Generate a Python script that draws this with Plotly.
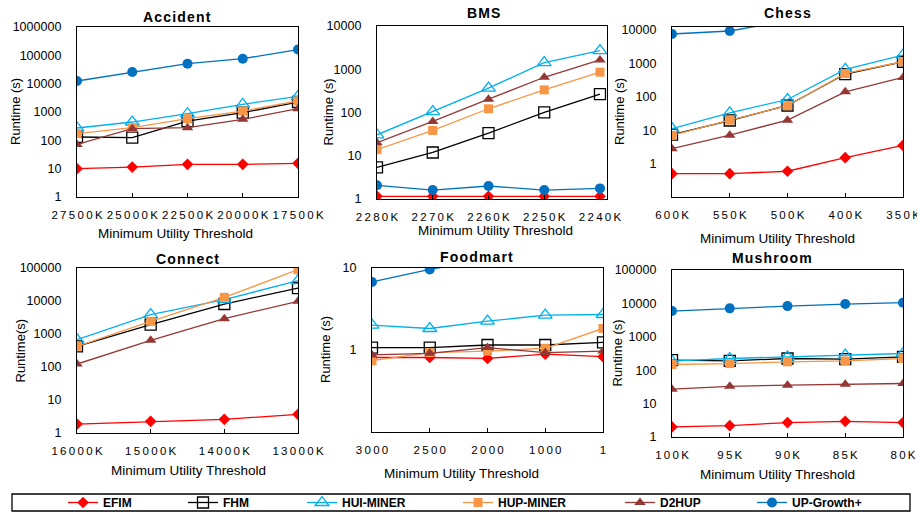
import plotly.graph_objects as go

# ---------------- data ----------------
series_names = ["EFIM", "FHM", "HUI-MINER", "HUP-MINER", "D2HUP", "UP-Growth+"]

accident_x = ["27500K", "25000K", "22500K", "20000K", "17500K"]
accident_efim = [10, 11.4, 14.2, 14.2, 15.4]
accident_fhm = [131, 124, 480, 950, 2250]
accident_hui = [272, 443, 870, 1870, 3550]
accident_hup = [172, 280, 580, 1080, 2450]
accident_d2hup = [72, 257, 280, 550, 1310]
accident_upg = [12400, 25700, 50800, 76000, 160000]

bms_x = ["2280K", "2270K", "2260K", "2250K", "2240K"]
bms_efim = [1.15, 1.15, 1.15, 1.15, 1.15]
bms_fhm = [5.4, 11.9, 33.3, 101, 265]
bms_hui = [30.5, 105, 365, 1420, 2700]
bms_hup = [13.8, 38.5, 122, 333, 855]
bms_d2hup = [20, 62, 203, 653, 1640]
bms_upg = [2.07, 1.61, 2.0, 1.61, 1.76]

chess_x = ["600K", "550K", "500K", "400K", "350K"]
chess_efim = [0.5, 0.5, 0.59, 1.5, 3.5]
chess_fhm = [7.4, 19.5, 55, 480, 1120]
chess_hui = [11.2, 33, 83, 660, 1780]
chess_hup = [7.0, 20, 54, 500, 1120]
chess_d2hup = [2.8, 7.1, 20, 141, 380]
chess_upg = [7600, 9330, 19000, 60000, 120000]

connect_x = ["16000K", "15000K", "14000K", "13000K"]
connect_efim = [1.87, 2.26, 2.6, 3.68]
connect_fhm = [423, 1920, 8100, 24700]
connect_hui = [675, 3850, 11000, 41300]
connect_hup = [423, 2420, 12900, 89000]
connect_d2hup = [123, 644, 2920, 9760]
connect_upg = None

foodmart_x = ["3000", "2500", "2000", "1000", "1"]
foodmart_efim = [0.81, 0.81, 0.79, 0.89, 0.83]
foodmart_fhm = [1.07, 1.07, 1.15, 1.15, 1.24]
foodmart_hui = [2.01, 1.83, 2.25, 2.66, 2.71]
foodmart_hup = [0.74, 0.93, 0.97, 1.05, 1.83]
foodmart_d2hup = [0.87, 0.91, 1.07, 0.93, 0.97]
foodmart_upg = [6.76, 9.6, 12.8, 16, 20]

mushroom_x = ["100K", "95K", "90K", "85K", "80K"]
mushroom_efim = [2.0, 2.19, 2.7, 2.95, 2.7]
mushroom_fhm = [200, 190, 224, 214, 251]
mushroom_hui = [186, 224, 251, 282, 316]
mushroom_hup = [148, 158, 178, 190, 224]
mushroom_d2hup = [27, 33, 35.5, 38, 40]
mushroom_upg = [5900, 7100, 8300, 9550, 10500]

titles = ["Accident", "BMS", "Chess", "Connect", "Foodmart", "Mushroom"]
ylabels = ["Runtime (s)", "Runtime (s)", "Runtime (s)", "Runtime(s)", "Runtime (s)", "Runtime (s)"]
xlabel = "Minimum Utility Threshold"

# ---------------- styles ----------------
W, H = 917, 512
FONT = "Liberation Sans"
styles = [
    dict(color="#FF0000", symbol="diamond", size=9, fill=True),
    dict(color="#000000", symbol="square-open", size=11, fill=False),
    dict(color="#00B0F0", symbol="triangle-up-open", size=12, fill=False),
    dict(color="#F79646", symbol="square", size=9, fill=True),
    dict(color="#953735", symbol="triangle-up", size=10, fill=True),
    dict(color="#0070C0", symbol="circle", size=10, fill=True),
]

datasets = [
    (accident_x, [accident_efim, accident_fhm, accident_hui, accident_hup, accident_d2hup, accident_upg]),
    (bms_x, [bms_efim, bms_fhm, bms_hui, bms_hup, bms_d2hup, bms_upg]),
    (chess_x, [chess_efim, chess_fhm, chess_hui, chess_hup, chess_d2hup, chess_upg]),
    (connect_x, [connect_efim, connect_fhm, connect_hui, connect_hup, connect_d2hup, connect_upg]),
    (foodmart_x, [foodmart_efim, foodmart_fhm, foodmart_hui, foodmart_hup, foodmart_d2hup, foodmart_upg]),
    (mushroom_x, [mushroom_efim, mushroom_fhm, mushroom_hui, mushroom_hup, mushroom_d2hup, mushroom_upg]),
]

# plot-area boxes in pixels: (x0, x1, y0_top, y1_bottom)
boxes = [(77, 298, 27, 197), (377, 607, 26, 199), (672, 903, 27, 197),
         (77, 298, 268, 433), (372, 603, 268, 432), (672, 903, 270, 437)]
yranges = [(0, 6), (0, 4), (-1, 4.09), (0, 5), (-1, 1), (0, 5)]
ytickvals = [[1, 10, 100, 1000, 10000, 100000, 1000000], [1, 10, 100, 1000, 10000],
             [1, 10, 100, 1000, 10000], [1, 10, 100, 1000, 10000, 100000],
             [1, 10], [1, 10, 100, 1000, 10000, 100000]]
xextra = [0, 0.126, 0, 0, 0, 0]
title_pos = [(177, 17), (483, 13), (787, 13), (187, 259), (477, 257), (772, 258)]
ylab_pos = [15, 328, 619, 20, 325, 617]
xlab_pos = [(175, 233), (495, 230), (777, 238), (188, 470), (462, 473), (777, 474)]
legend_sym_x = [68, 188, 307, 463, 625, 757]


def spaced(s, sep="\u200a"):
    return sep.join(list(s))


fig = go.Figure()
annotations = []
for i, ((cats, vals), box) in enumerate(zip(datasets, boxes)):
    k = "" if i == 0 else str(i + 1)
    for j, v in enumerate(vals):
        if v is None:
            continue
        st = styles[j]
        marker = dict(symbol=st["symbol"], size=st["size"], color=st["color"])
        if not st["fill"]:
            marker["line"] = dict(color=st["color"], width=1.3)
        fig.add_trace(go.Scatter(
            x=cats, y=v, mode="lines+markers", name=series_names[j],
            line=dict(color=st["color"], width=1.3), marker=marker,
            xaxis="x" + k, yaxis="y" + k, showlegend=(i == 0),
            legend="legend" if j == 0 else "legend" + str(j + 1),
            legendgroup=series_names[j]))
    x0, x1, y0, y1 = box
    n = len(cats)
    fig.layout["xaxis" + k] = dict(
        domain=[x0 / W, x1 / W], anchor="y" + k, type="category",
        range=[0, n - 1 + xextra[i]], tickmode="array", tickvals=cats,
        ticktext=[spaced(c, "\u2009") for c in cats], showline=True, mirror=True,
        linecolor="#000000", linewidth=1.3, showgrid=False, zeroline=False,
        ticks="inside", ticklen=4, tickcolor="#000000",
        tickfont=dict(family=FONT, size=11.5, color="#000000"), ticklabelstandoff=7)
    fig.layout["yaxis" + k] = dict(
        domain=[1 - y1 / H, 1 - y0 / H], anchor="x" + k, type="log",
        range=list(yranges[i]), tickmode="array", tickvals=ytickvals[i],
        ticktext=[str(t) for t in ytickvals[i]], showline=True, mirror=True,
        linecolor="#000000", linewidth=1.3, showgrid=False, zeroline=False,
        ticks="", tickfont=dict(family=FONT, size=12.5, color="#000000"),
        ticklabelstandoff=12)
    tx, ty = title_pos[i]
    annotations.append(dict(x=tx / W, y=1 - ty / H, xref="paper", yref="paper",
                            text="<b>" + spaced(titles[i]) + "</b>", showarrow=False,
                            font=dict(family=FONT, size=14, color="#000000"),
                            xanchor="center", yanchor="middle"))
    annotations.append(dict(x=ylab_pos[i] / W, y=1 - (y0 + y1) / 2 / H, xref="paper", yref="paper",
                            text=ylabels[i], textangle=-90, showarrow=False,
                            font=dict(family=FONT, size=13, color="#000000"),
                            xanchor="center", yanchor="middle"))
    lx, ly = xlab_pos[i]
    annotations.append(dict(x=lx / W, y=1 - ly / H, xref="paper", yref="paper",
                            text=xlabel, showarrow=False,
                            font=dict(family=FONT, size=13.5, color="#000000"),
                            xanchor="center", yanchor="middle"))

fig.update_layout(
    width=W, height=H, margin=dict(l=0, r=0, t=0, b=0, autoexpand=False),
    paper_bgcolor="white", plot_bgcolor="white",
    annotations=annotations,
    showlegend=True,
    shapes=[dict(type="rect", xref="paper", yref="paper", x0=12 / W, x1=910 / W,
                 y0=1 - 511 / H, y1=1 - 494 / H, line=dict(color="#000000", width=1.3),
                 fillcolor="rgba(0,0,0,0)")],
)
for j, sx in enumerate(legend_sym_x):
    key = "legend" if j == 0 else "legend" + str(j + 1)
    fig.layout[key] = dict(orientation="h", x=(sx - 5) / W, y=1 - 502.5 / H,
                           xanchor="left", yanchor="middle",
                           font=dict(family=FONT, size=12, color="#000000", weight="bold"),
                           itemwidth=30, bgcolor="rgba(0,0,0,0)", borderwidth=0)

fig.write_html("out.html", config={"displayModeBar": False},
               post_script="document.body.style.margin='0';")
